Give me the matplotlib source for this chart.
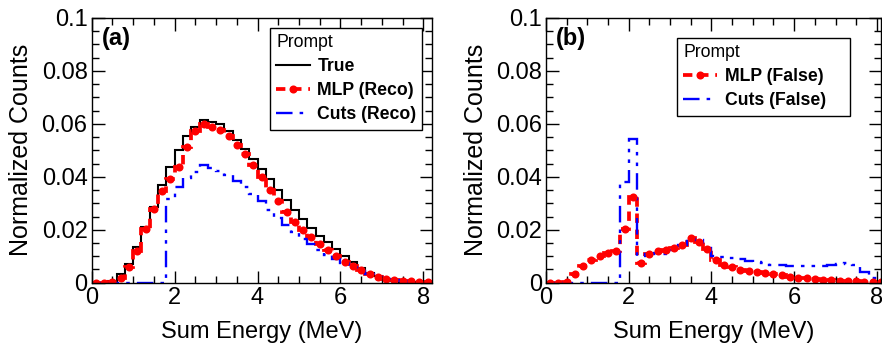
import numpy as np
import matplotlib
matplotlib.use("Agg")
import matplotlib.pyplot as plt
from matplotlib.lines import Line2D
from matplotlib.ticker import MultipleLocator, FuncFormatter

plt.rcParams['font.family'] = ['Liberation Sans', 'DejaVu Sans']

# ---- data -------------------------------------------------------------
bin_edges = np.round(np.arange(0, 8.2001, 0.2), 2)

true_a = [0, 0, 0.0005, 0.0034, 0.0071, 0.0134, 0.0209, 0.0287, 0.0368, 0.0437,
          0.0500, 0.0553, 0.0588, 0.0615, 0.0607, 0.0598, 0.0572, 0.0540, 0.0505, 0.0468,
          0.0430, 0.0390, 0.0350, 0.0312, 0.0275, 0.0240, 0.0206, 0.0176, 0.0152, 0.0127,
          0.0102, 0.0077, 0.0055, 0.0036, 0.0024, 0.0014, 0.0008, 0.0004, 0.0002, 0.0001, 0]
mlp_a = [0, 0, 0.0003, 0.0018, 0.0059, 0.0121, 0.0203, 0.0277, 0.0345, 0.0390,
         0.0437, 0.0513, 0.0572, 0.0600, 0.0588, 0.0575, 0.0555, 0.0520, 0.0485, 0.0443,
         0.0400, 0.0352, 0.0310, 0.0268, 0.0231, 0.0199, 0.0172, 0.0148, 0.0122, 0.0100,
         0.0080, 0.0062, 0.0047, 0.0031, 0.0021, 0.0015, 0.0011, 0.0008, 0.0006, 0.0004, 0.0003]
cuts_a = [0, 0, 0, 0, 0, 0, 0, 0, 0, 0.0318,
          0.0360, 0.0394, 0.0420, 0.0443, 0.0435, 0.0422, 0.0407, 0.0385, 0.0360, 0.0334,
          0.0307, 0.0276, 0.0245, 0.0218, 0.0190, 0.0166, 0.0145, 0.0123, 0.0105, 0.0088,
          0.0074, 0.0058, 0.0044, 0.0031, 0.0021, 0.0014, 0.0009, 0.0005, 0.0003, 0.0002, 0.0001]

mlp_b = [0, 0, 0.0003, 0.0032, 0.0064, 0.0085, 0.0101, 0.0111, 0.0119, 0.0202,
         0.0322, 0.0075, 0.0110, 0.0120, 0.0125, 0.0130, 0.0143, 0.0169, 0.0155, 0.0128,
         0.0085, 0.0068, 0.0058, 0.0049, 0.0043, 0.0040, 0.0038, 0.0034, 0.0029, 0.0023,
         0.0019, 0.0016, 0.0013, 0.0011, 0.0009, 0.0008, 0.0007, 0.0006, 0.0004, 0.0003, 0.0002]
cuts_b = [0, 0, 0, 0, 0, 0, 0, 0, 0, 0.0379,
          0.0542, 0.0100, 0.0108, 0.0112, 0.0108, 0.0125, 0.0143, 0.0166, 0.0160, 0.0132,
          0.0100, 0.0097, 0.0094, 0.0088, 0.0083, 0.0077, 0.0073, 0.0068, 0.0065, 0.0063,
          0.0062, 0.0062, 0.0062, 0.0063, 0.0066, 0.0070, 0.0073, 0.0068, 0.0042, 0.0016, 0.0008]

xlabel = "Sum Energy (MeV)"
ylabel = "Normalized Counts"
y_ticks = [0, 0.02, 0.04, 0.06, 0.08, 0.1]
x_ticks = [0, 2, 4, 6, 8]

# ---- style ------------------------------------------------------------
RED = '#ff0000'
BLUE = '#0000ff'
cuts_dash = (0, (7, 3, 1.5, 3, 1.5, 3))
mlp_dash = (0, (2.5, 1.8))
LW_BLACK = 1.5
LW_RED = 2.7
LW_BLUE = 1.7
MS = 5.8

fig = plt.figure(figsize=(8.82, 3.5), dpi=100)
ax_a = fig.add_axes([91.7 / 882, 1 - 282.7 / 350, 340 / 882, 264.7 / 350])
ax_b = fig.add_axes([546 / 882, 1 - 282.7 / 350, 335 / 882, 264.7 / 350])

centers = 0.5 * (bin_edges[:-1] + bin_edges[1:])


def style_axes(ax, xmax):
    ax.set_xlim(0, xmax)
    ax.set_ylim(0, 0.1)
    ax.set_xticks(x_ticks)
    ax.set_yticks(y_ticks)
    ax.xaxis.set_minor_locator(MultipleLocator(0.5))
    ax.yaxis.set_minor_locator(MultipleLocator(0.005))
    ax.yaxis.set_major_formatter(FuncFormatter(lambda v, p: '%g' % round(v, 3)))
    ax.tick_params(which='both', direction='in', top=True, right=True,
                   labelsize=17, width=1.0, pad=3)
    ax.tick_params(which='major', length=9)
    ax.tick_params(which='minor', length=5)
    for s in ax.spines.values():
        s.set_linewidth(1.0)
    ax.set_xlabel(xlabel, fontsize=17, labelpad=9)
    ax.set_ylabel(ylabel, fontsize=18, labelpad=6)


# panel (a)
ax_a.stairs(true_a, bin_edges, color='black', lw=LW_BLACK, baseline=None)
ax_a.stairs(mlp_a, bin_edges, color=RED, lw=LW_RED, linestyle=mlp_dash, baseline=None)
ax_a.plot(centers, mlp_a, 'o', color=RED, ms=MS, mew=0)
ax_a.stairs(cuts_a, bin_edges, color=BLUE, lw=LW_BLUE, linestyle=cuts_dash, baseline=None)
style_axes(ax_a, 8.2)
ax_a.text(0.03, 0.965, '(a)', transform=ax_a.transAxes, fontsize=17,
          fontweight='bold', va='top', ha='left')

h_true = Line2D([], [], color='black', lw=LW_BLACK)
h_mlp = Line2D([], [], color=RED, lw=LW_RED, linestyle=mlp_dash, marker='o', ms=MS, mew=0)
h_cuts = Line2D([], [], color=BLUE, lw=LW_BLUE, linestyle=cuts_dash)

legend_kw = dict(title='Prompt', loc='upper left', frameon=True, fancybox=False,
                 edgecolor='black', framealpha=1, mode='expand',
                 prop={'size': 12.7, 'weight': 'bold'}, title_fontsize=12.7,
                 handlelength=1.9, handletextpad=0.45, labelspacing=0.4,
                 borderpad=0.35, borderaxespad=0)

leg_a = ax_a.legend([h_true, h_mlp, h_cuts], ['True', 'MLP (Reco)', 'Cuts (Reco)'],
                    bbox_to_anchor=(0.524, 0.0, 0.447, 0.962), **legend_kw)
leg_a._legend_box.align = 'left'
leg_a.get_frame().set_linewidth(1.0)

# panel (b)
ax_b.stairs(mlp_b, bin_edges, color=RED, lw=LW_RED, linestyle=mlp_dash, baseline=None)
ax_b.plot(centers, mlp_b, 'o', color=RED, ms=MS, mew=0)
ax_b.stairs(cuts_b, bin_edges, color=BLUE, lw=LW_BLUE, linestyle=cuts_dash, baseline=None)
style_axes(ax_b, 8.1)
ax_b.text(0.03, 0.965, '(b)', transform=ax_b.transAxes, fontsize=17,
          fontweight='bold', va='top', ha='left')

leg_b = ax_b.legend([h_mlp, h_cuts], ['MLP (False)', 'Cuts (False)'],
                    bbox_to_anchor=(0.391, 0.0, 0.516, 0.924), **legend_kw)
leg_b._legend_box.align = 'left'
leg_b.get_frame().set_linewidth(1.0)

fig.savefig('out.png', dpi=100)
